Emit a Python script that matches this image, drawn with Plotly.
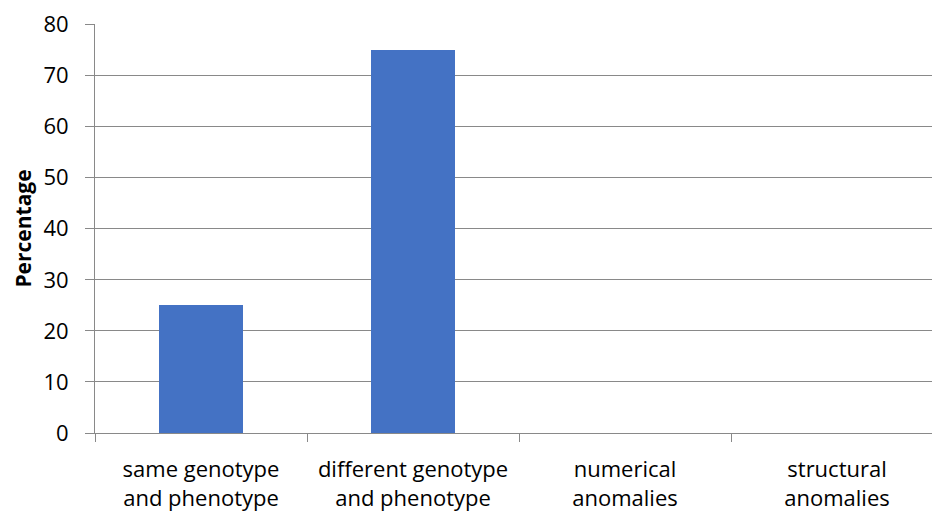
import plotly.graph_objects as go

categories = ["same genotype<br>and phenotype", "different genotype<br>and phenotype",
              "numerical<br>anomalies", "structural<br>anomalies"]
values = [25, 75, 0, 0]
y_ticks = [0, 10, 20, 30, 40, 50, 60, 70, 80]

fig = go.Figure()
fig.add_trace(go.Bar(x=list(range(len(categories))), y=values, width=0.4,
                     marker=dict(color="#4472C4", line=dict(width=0))))

font = "Open Sans, Noto Sans, sans-serif"
fig.update_layout(
    width=932, height=512,
    margin=dict(l=95, r=0, t=24, b=79),
    paper_bgcolor="white", plot_bgcolor="white",
    showlegend=False,
    font=dict(family=font, size=22, color="black"),
    bargap=0,
)
fig.update_xaxes(
    range=[-0.5, 3.448], automargin=False,
    tickmode="array", tickvals=list(range(len(categories))), ticktext=categories,
    showgrid=False, showline=True, linecolor="#898989", linewidth=1,
    ticks="", tickfont=dict(family=font, size=22, color="black"), ticklabelstandoff=17,
    zeroline=False,
)
fig.update_xaxes(minor=dict(tickvals=[-0.5, 0.5, 1.5, 2.5, 3.5], ticks="outside",
                            ticklen=8, tickcolor="#898989", tickwidth=1, showgrid=False))
fig.update_yaxes(
    range=[0, 80.1], tickvals=y_ticks, automargin=False,
    showgrid=True, gridcolor="#898989", gridwidth=1,
    showline=True, linecolor="#898989", linewidth=1,
    ticks="outside", ticklen=9, tickcolor="#898989",
    tickfont=dict(family=font, size=22, color="black"), ticklabelstandoff=12,
    ticklabeloverflow="allow",
    zeroline=False,
    title=dict(text="<b>Percentage</b>", font=dict(family=font, size=21, color="black"), standoff=6),
)
fig.write_html(
    "out.html",
    config={"displayModeBar": False},
    post_script="document.body.style.margin='0';document.body.style.overflow='hidden';"
                "document.documentElement.style.overflow='hidden';",
)
